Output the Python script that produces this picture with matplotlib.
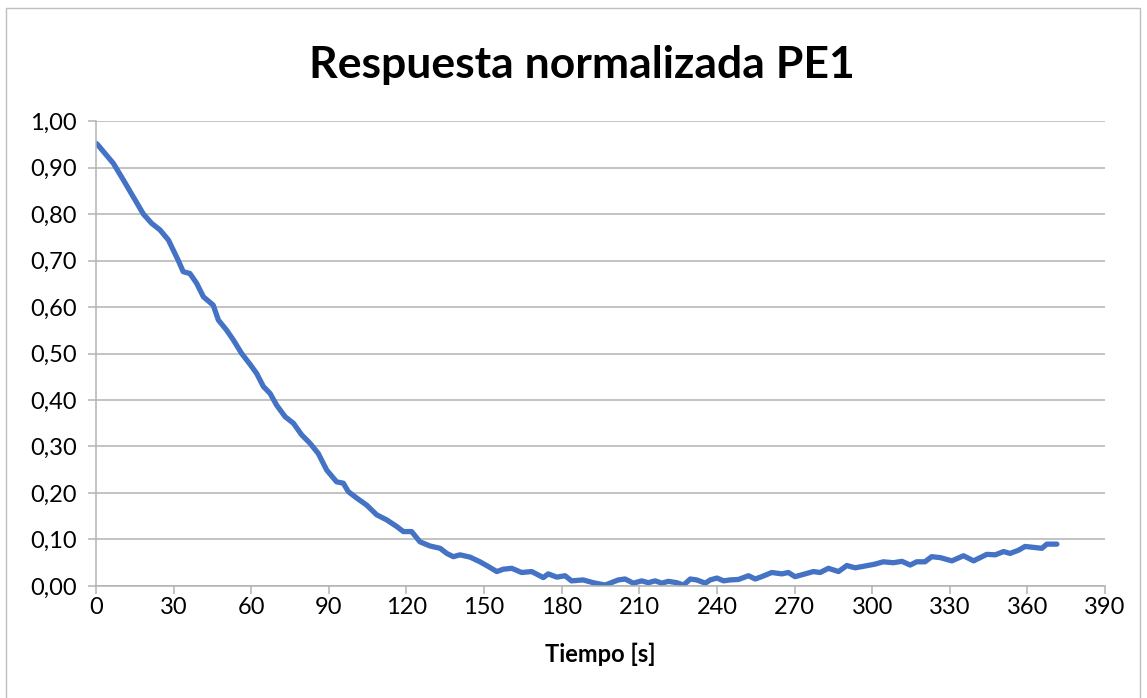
import matplotlib.pyplot as plt
from matplotlib.ticker import FuncFormatter, MultipleLocator
from matplotlib.patches import Rectangle

# Data
tiempo = [0, 0.5, 6.7, 10.6, 14.4, 18.3, 21.5, 24.7, 28.0, 31.8, 33.7, 36.3, 38.9,
          41.5, 45.3, 47.3, 50.5, 53.1, 56.3, 59.5, 62.1, 64.7, 67.3, 69.8, 73.1,
          76.3, 79.5, 82.7, 85.9, 89.2, 93.0, 95.6, 97.5, 100.8, 104.6, 108.5,
          112.4, 116.2, 118.8, 122.0, 125.2, 129.1, 133.0, 135.6, 138.1, 140.7,
          144.6, 148.4, 151.6, 154.9, 157.4, 160.7, 164.5, 168.4, 172.9, 174.8,
          178.1, 181.3, 183.8, 188.3, 192.2, 196.8, 201.9, 204.5, 207.7, 210.9,
          213.5, 216.1, 218.7, 221.2, 224.5, 227.1, 229.7, 232.2, 235.5, 237.4,
          240.0, 242.6, 245.1, 248.3, 252.2, 254.8, 257.3, 261.2, 265.1, 267.6,
          270.2, 274.1, 277.3, 279.9, 283.1, 287.0, 290.2, 293.4, 297.3, 301.1,
          304.3, 308.2, 311.5, 314.7, 317.2, 320.4, 323.0, 326.3, 330.8, 335.3,
          339.2, 344.3, 347.6, 350.8, 353.3, 356.6, 359.1, 362.4, 365.6, 367.5,
          371.4]
respuesta = [0.952, 0.950, 0.909, 0.873, 0.837, 0.800, 0.780, 0.766, 0.744, 0.700,
             0.676, 0.672, 0.651, 0.622, 0.604, 0.572, 0.550, 0.529, 0.500, 0.477,
             0.457, 0.429, 0.414, 0.389, 0.364, 0.350, 0.325, 0.307, 0.285, 0.249,
             0.224, 0.221, 0.203, 0.189, 0.174, 0.153, 0.142, 0.128, 0.117, 0.117,
             0.095, 0.086, 0.081, 0.070, 0.063, 0.067, 0.062, 0.052, 0.042, 0.031,
             0.036, 0.038, 0.029, 0.031, 0.018, 0.026, 0.019, 0.022, 0.011, 0.013,
             0.007, 0.002, 0.013, 0.015, 0.006, 0.011, 0.007, 0.011, 0.006, 0.010,
             0.007, 0.002, 0.015, 0.013, 0.006, 0.013, 0.017, 0.011, 0.013, 0.014,
             0.022, 0.015, 0.020, 0.029, 0.026, 0.029, 0.020, 0.026, 0.031, 0.029,
             0.038, 0.031, 0.044, 0.039, 0.043, 0.047, 0.052, 0.050, 0.053, 0.045,
             0.052, 0.052, 0.063, 0.061, 0.054, 0.065, 0.054, 0.068, 0.067, 0.074,
             0.070, 0.077, 0.085, 0.083, 0.081, 0.090, 0.090]

plt.rcParams['font.family'] = ['Lato', 'DejaVu Sans']

fig = plt.figure(figsize=(11.47, 6.98), dpi=100)
ax = fig.add_axes([0.0837, 0.1605, 0.8797, 0.6661])

# outer chart border
fig.patches.append(Rectangle((0.005, -0.01), 0.989, 0.999, transform=fig.transFigure,
                             fill=False, edgecolor='#bfbfbf', linewidth=1))

ax.plot(tiempo, respuesta, color='#4472C4', linewidth=3.8, solid_capstyle='round',
        solid_joinstyle='round')

ax.set_xlim(0, 390)
ax.set_ylim(0, 1.0)
ax.xaxis.set_major_locator(MultipleLocator(30))
ax.yaxis.set_major_locator(MultipleLocator(0.1))
ax.yaxis.set_major_formatter(FuncFormatter(lambda v, p: f"{v:.2f}".replace('.', ',')))

ax.grid(axis='y', color='#b3b3b3', linewidth=1.1)
ax.set_axisbelow(True)
for s in ['top', 'right']:
    ax.spines[s].set_visible(False)
for s in ['left', 'bottom']:
    ax.spines[s].set_color('#b3b3b3')
    ax.spines[s].set_linewidth(1.1)

ax.tick_params(axis='both', colors='#b3b3b3', labelcolor='black', labelsize=17,
               length=6, width=1.1, direction='out')
ax.tick_params(axis='y', pad=8)
ax.tick_params(axis='x', pad=2)

ax.set_xlabel('Tiempo [s]', fontsize=17, fontweight='bold', labelpad=18)
fig.suptitle('Respuesta normalizada PE1', fontsize=32, fontweight='bold',
             x=0.507, y=0.936)

fig.savefig('out.png', dpi=100)
